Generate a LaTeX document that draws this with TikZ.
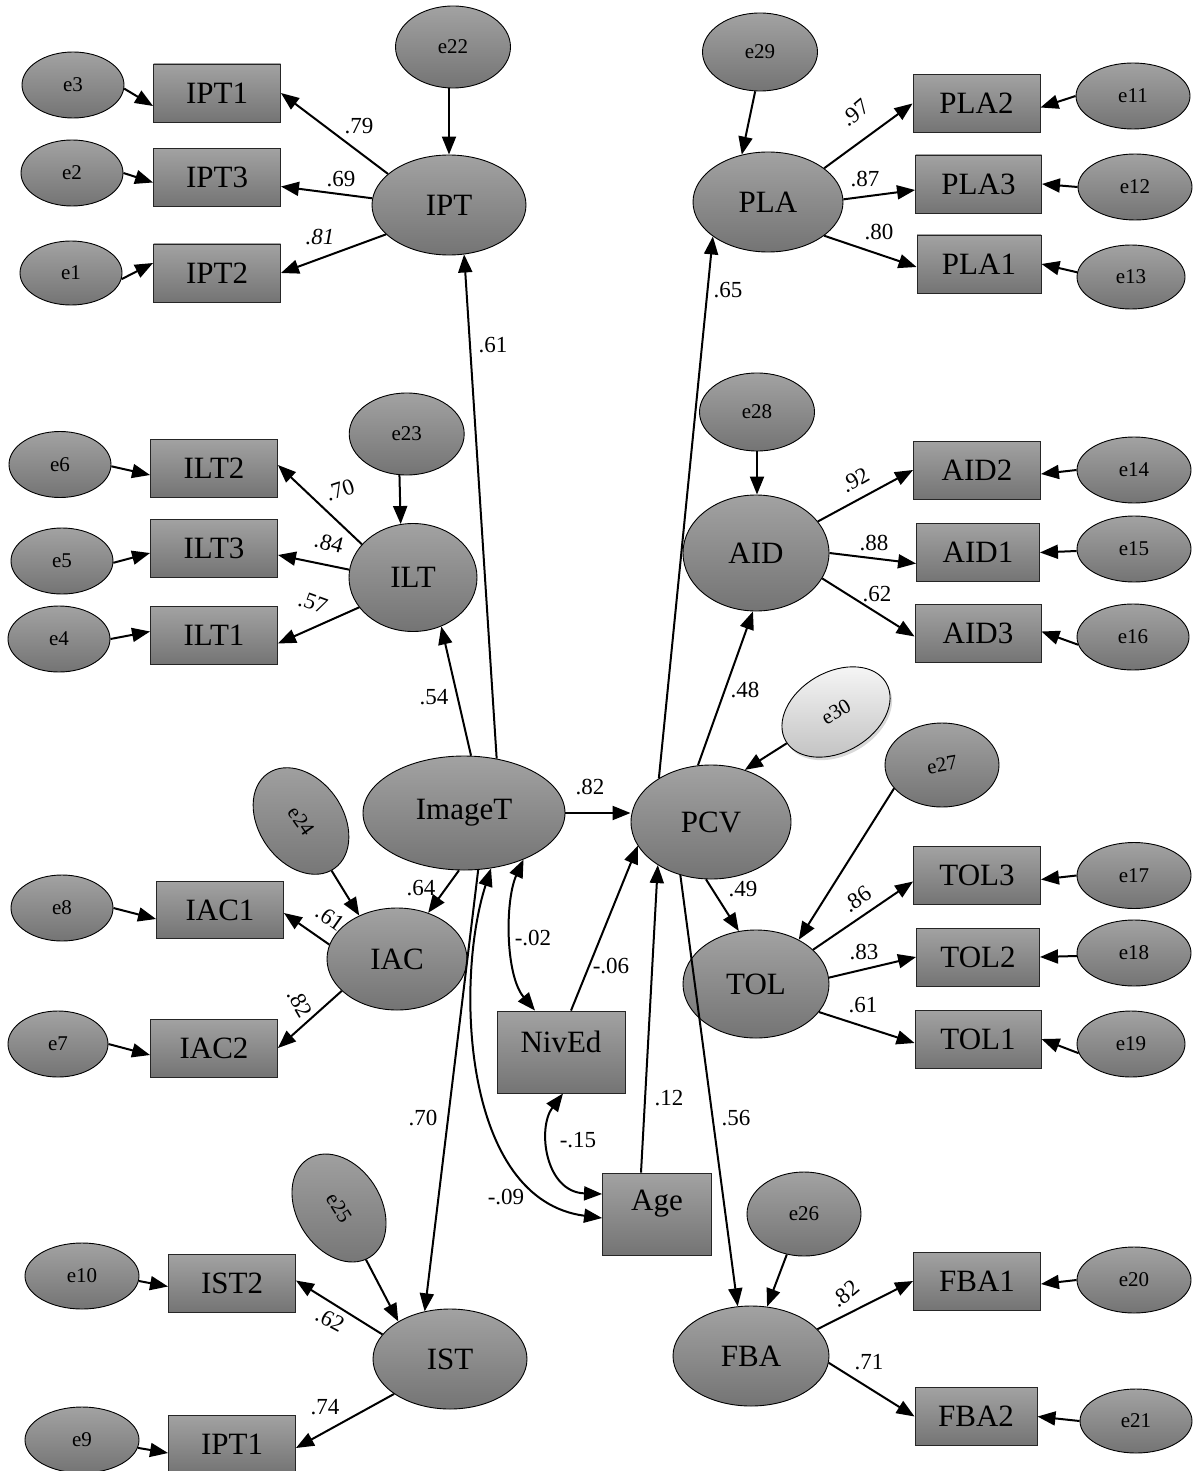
\documentclass[tikz,border=0pt]{standalone}
\usepackage{fontspec}
\usepackage{graphicx}
\setmainfont{Liberation Serif}
\usetikzlibrary{arrows.meta,shapes.geometric,shadows}
\definecolor{gtop}{RGB}{162,162,162}
\definecolor{gbot}{RGB}{116,116,116}
\definecolor{ltop}{RGB}{248,248,248}
\definecolor{lbot}{RGB}{192,192,192}
\begin{document}
\begin{tikzpicture}[x=1pt,y=-1pt,
  base/.style={draw=black,line width=0.9pt,top color=gtop,bottom color=gbot,inner sep=0pt},
  lat/.style={base,ellipse,font=\fontsize{31}{31}\selectfont},
  err/.style={base,ellipse,font=\fontsize{21}{21}\selectfont},
  eleft/.style={err,minimum width=102pt,minimum height=66pt},
  eright/.style={err,minimum width=114pt,minimum height=66pt},
  etop/.style={err,minimum width=115pt,minimum height=80pt},
  obs/.style={base,rectangle,draw=black!85,minimum width=127pt,minimum height=58pt,font=\fontsize{31}{31}\selectfont},
  coef/.style={font=\fontsize{23}{23}\selectfont,inner sep=0pt},
  arr/.style={line width=2pt,-{Triangle[length=18pt,width=14pt]}},
  dbl/.style={line width=2pt,{Triangle[length=18pt,width=14pt]}-{Triangle[length=18pt,width=14pt]}},
]
\useasboundingbox (0,0) rectangle (1193,1471);

% ---------- IPT group
\node[lat,minimum width=154pt,minimum height=100pt] (IPT) at (449,205) {IPT};
\node[etop,minimum height=82pt] (e22) at (453,47) {e22};
\node[obs] (IPT1) at (217,93) {IPT1};
\node[obs] (IPT3) at (217,177.5) {IPT3};
\node[obs] (IPT2) at (217,273) {IPT2};
\node[eleft] (e3) at (73,85) {e3};
\node[eleft] (e2) at (72,173) {e2};
\node[eleft,minimum height=64pt] (e1) at (71,273) {e1};

% ---------- PLA group
\node[lat,minimum width=150pt,minimum height=100pt] (PLA) at (768,202) {PLA};
\node[etop,minimum height=78pt] (e29) at (760,52) {e29};
\node[obs] (PLA2) at (976.5,103.5) {PLA2};
\node[obs,minimum width=126pt] (PLA3) at (978.5,184) {PLA3};
\node[obs,minimum width=124pt] (PLA1) at (979,264) {PLA1};
\node[eright] (e11) at (1133,96) {e11};
\node[eright] (e12) at (1135,187) {e12};
\node[eright,minimum width=108pt,minimum height=64pt] (e13) at (1131,277) {e13};

% ---------- ILT group
\node[lat,minimum width=128pt,minimum height=108pt] (ILT) at (413,577.5) {ILT};
\node[etop,minimum height=82pt] (e23) at (406.7,434) {e23};
\node[obs] (ILT2) at (214,468) {ILT2};
\node[obs] (ILT3) at (214,548) {ILT3};
\node[obs] (ILT1) at (214,635.5) {ILT1};
\node[eleft] (e6) at (60,464.5) {e6};
\node[eleft] (e5) at (62,561) {e5};
\node[eleft] (e4) at (59,639) {e4};

% ---------- AID group
\node[lat,minimum width=146pt,minimum height=116pt] (AID) at (756,553) {AID};
\node[etop,minimum height=78pt] (e28) at (757,412) {e28};
\node[obs] (AID2) at (977,470) {AID2};
\node[obs,minimum width=123pt] (AID1) at (978,552.5) {AID1};
\node[obs,minimum width=126pt] (AID3) at (978,633.5) {AID3};
\node[eright] (e14) at (1134,470) {e14};
\node[eright] (e15) at (1134,549) {e15};
\node[eright,minimum width=112pt] (e16) at (1133,637) {e16};

% ---------- centre
\node[lat,minimum width=202pt,minimum height=114pt] (ImageT) at (464,813) {ImageT};
\node[lat,minimum width=160pt,minimum height=114pt] (PCV) at (711,822) {PCV};
\node[err,top color=ltop,bottom color=lbot,rotate=30,minimum width=116pt,minimum height=80pt,
      drop shadow={shadow xshift=2pt,shadow yshift=-3pt,opacity=0.3}] (e30) at (836,712) {e30};
\node[etop,minimum width=114pt,minimum height=84pt] (e27) at (942,765) {\rotatebox{10}{e27}};

% ---------- IAC group
\node[lat,minimum width=140pt,minimum height=102pt] (IAC) at (397,959) {IAC};
\node[err,rotate=-55,minimum width=116pt,minimum height=84pt] (e24) at (301,821) {e24};
\node[obs,minimum height=57pt] (IAC1) at (220,910) {IAC1};
\node[obs] (IAC2) at (214,1048) {IAC2};
\node[eleft] (e8) at (62,908) {e8};
\node[eleft,minimum width=100pt] (e7) at (58,1044) {e7};

% ---------- TOL group
\node[lat,minimum width=146pt,minimum height=108pt] (TOL) at (756,984) {TOL};
\node[obs] (TOL3) at (977,875.5) {TOL3};
\node[obs,minimum width=123pt] (TOL2) at (978,957) {TOL2};
\node[obs,minimum width=126pt] (TOL1) at (978,1039) {TOL1};
\node[eright] (e17) at (1134,875.5) {e17};
\node[eright] (e18) at (1134,953) {e18};
\node[eright,minimum width=108pt] (e19) at (1131,1044) {e19};

% ---------- NivEd, Age
\node[obs,minimum width=128pt,minimum height=82pt,text depth=21pt] (NivEd) at (561,1052) {NivEd};
\node[obs,minimum width=109pt,minimum height=82pt,text depth=28pt] (Age) at (657,1214) {Age\hspace{14pt}};

% ---------- FBA group
\node[lat,minimum width=156pt,minimum height=100pt] (FBA) at (751,1356) {FBA};
\node[etop,minimum width=114pt,minimum height=84pt] (e26) at (804,1214) {e26};
\node[obs] (FBA1) at (977,1281) {FBA1};
\node[obs,minimum width=122pt] (FBA2) at (976,1416.5) {FBA2};
\node[eright] (e20) at (1134,1280) {e20};
\node[eright,minimum width=112pt,minimum height=64pt] (e21) at (1136,1421) {e21};

% ---------- IST group
\node[lat,minimum width=154pt,minimum height=100pt] (IST) at (450,1359) {IST};
\node[err,rotate=-58,minimum width=116pt,minimum height=84pt] (e25) at (339,1208) {e25};
\node[obs] (IST2) at (232,1283.5) {IST2};
\node[obs] (IPT1b) at (232,1444) {IPT1};
\node[eright] (e10) at (82,1276) {e10};
\node[eright] (e9) at (82,1440) {e9};

% ================= connectors
% IPT
\draw[arr] (IPT.north |- e22.south) -- (IPT.north);
\draw[arr] (IPT.153) -- (IPT1.east);
\draw[arr] (IPT.175) -- ([yshift=-9pt]IPT3.east);
\draw[arr] (IPT.-155) -- (IPT2.east);
\draw[arr] (e3.-4) -- ([yshift=-13pt]IPT1.west);
\draw[arr] (e2.0) -- ([yshift=-5pt]IPT3.west);
\draw[arr] (e1.-7) -- ([yshift=10pt]IPT2.west);
% PLA
\draw[arr] (e29.-97) -- (PLA.119);
\draw[arr] (PLA.31) -- (PLA2.west);
\draw[arr] (PLA.2) -- ([yshift=-6pt]PLA3.west);
\draw[arr] (PLA.-31) -- ([yshift=-3pt]PLA1.west);
\draw[arr] (e11.west) -- ([yshift=-4pt]PLA2.east);
\draw[arr] (e12.west) -- (PLA3.east);
\draw[arr] (e13.175) -- (PLA1.east);
% ILT
\draw[arr] (e23.-100) -- (ILT.103);
\draw[arr] (ILT.147) -- ([yshift=3pt]ILT2.east);
\draw[arr] (ILT.173) -- ([yshift=-7pt]ILT3.east);
\draw[arr] (ILT.-151) -- ([yshift=-8pt]ILT1.east);
\draw[arr] (e6.-2) -- ([yshift=-7pt]ILT2.west);
\draw[arr] (e5.-2) -- ([yshift=-5pt]ILT3.west);
\draw[arr] (e4.0) -- ([yshift=4pt]ILT1.west);
% AID
\draw[arr] (e28.south) -- (e28.south |- AID.north);
\draw[arr] (AID.27) -- (AID2.west);
\draw[arr] (AID.0) -- ([yshift=-11pt]AID1.west);
\draw[arr] (AID.-21) -- ([yshift=-3pt]AID3.west);
\draw[arr] (e14.west) -- ([yshift=-4pt]AID2.east);
\draw[arr] (e15.182) -- (AID1.east);
\draw[arr] (e16.-172) -- ([yshift=2pt]AID3.east);
% structural paths
\draw[arr] (ImageT.east) -- (PCV.west |- ImageT.east);
\draw[arr] (ImageT.59) -- (IPT.-73);
\draw[arr] (ImageT.83) -- (ILT.-60);
\draw[arr] (ImageT.-95) -- (IAC.56);
\draw[arr] (ImageT.-76) -- (IST.118);
\draw[arr] (PCV.140) -- (PLA.-148);
\draw[arr] (PCV.103) -- (AID.-93);
\draw[arr] (PCV.-95) -- (TOL.108);
\draw[arr] (PCV.-120) -- (FBA.105);
\draw[arr] (e30) -- (PCV.57);
\draw[arr] ([xshift=10pt]NivEd.north) -- (PCV.-162);
\draw[arr] ([xshift=-16pt]Age.north) -- (PCV.-141);
\draw[dbl] (ImageT.-64) .. controls (455,980) and (462,1200) .. ([yshift=-4pt]Age.west);
\draw[dbl] (ImageT.-38) .. controls (505,900) and (505,975) .. ([xshift=-26pt]NivEd.north);
\draw[dbl] ([xshift=2pt]NivEd.south) .. controls (537,1128) and (545,1192) .. ([yshift=20pt]Age.west);
% TOL
\draw[arr] (e27.-154) -- (TOL.46);
\draw[arr] (TOL.31) -- ([yshift=-6pt]TOL3.west);
\draw[arr] (TOL.5) -- (TOL2.west);
\draw[arr] (TOL.-24) -- ([yshift=-4pt]TOL1.west);
\draw[arr] (e17.west) -- ([yshift=-4pt]TOL3.east);
\draw[arr] (e18.183) -- (TOL2.east);
\draw[arr] (e19.-170) -- (TOL1.east);
% FBA
\draw[arr] (e26.-113) -- (FBA.72);
\draw[arr] (FBA.22) -- (FBA1.west);
\draw[arr] (FBA.-5) -- (FBA2.west);
\draw[arr] (e20.west) -- ([yshift=-3pt]FBA1.east);
\draw[arr] (e21.west) -- (FBA2.east);
% IAC
\draw[arr] (e24) -- (IAC.131);
\draw[arr] (IAC.168) -- ([yshift=-3pt]IAC1.east);
\draw[arr] (IAC.-150) -- (IAC2.east);
\draw[arr] (e8.0) -- ([yshift=-9pt]IAC1.west);
\draw[arr] (e7.0) -- ([yshift=-7pt]IAC2.west);
% IST
\draw[arr] (e25) -- (IST.144);
\draw[arr] (IST.160) -- ([yshift=3pt]IST2.east);
\draw[arr] (IST.-148) -- ([yshift=-4pt]IPT1b.east);
\draw[arr] (e10.-5) -- ([yshift=-3pt]IST2.west);
\draw[arr] (e9.-8) -- ([yshift=-9pt]IPT1b.west);

% ================= coefficients
\node[coef] (c1) at (359,126) {.79};
\node[coef] (c2) at (341,179) {.69};
\node[coef,font=\fontsize{23}{23}\selectfont\itshape] (c3) at (320,237) {.81};
\node[coef] (c4) at (493,345) {.61};
\node[coef,rotate=40] (c5) at (855,113) {.97};
\node[coef] (c6) at (865,179) {.87};
\node[coef] (c7) at (879,232) {.80};
\node[coef] (c8) at (728,290) {.65};
\node[coef,rotate=18] (c9) at (340,490) {.70};
\node[coef,rotate=-15] (c10) at (329,543) {.84};
\node[coef,rotate=-20] (c11) at (313,603) {.57};
\node[coef] (c12) at (434,697) {.54};
\node[coef,rotate=30] (c13) at (855,480) {.92};
\node[coef] (c14) at (874,543) {.88};
\node[coef] (c15) at (877,594) {.62};
\node[coef] (c16) at (745,690) {.48};
\node[coef] (c17) at (590,787) {.82};
\node[coef] (c18) at (421,888) {.64};
\node[coef,rotate=-35] (c19) at (330,918) {.61};
\node[coef,rotate=-60] (c20) at (300,1003) {.82};
\node[coef] (c21) at (743,889) {.49};
\node[coef,rotate=35] (c22) at (857,899) {.86};
\node[coef] (c23) at (864,952) {.83};
\node[coef] (c24) at (863,1005) {.61};
\node[coef] (c25) at (533,938) {-.02};
\node[coef] (c26) at (611,966) {-.06};
\node[coef] (c27) at (669,1098) {.12};
\node[coef] (c28) at (578,1140) {-.15};
\node[coef] (c29) at (736,1118) {.56};
\node[coef] (c30) at (423,1118) {.70};
\node[coef] (c31) at (506,1197) {-.09};
\node[coef,rotate=40] (c32) at (845,1294) {.82};
\node[coef] (c33) at (869,1362) {.71};
\node[coef,rotate=-28] (c34) at (330,1320) {.62};
\node[coef] (c35) at (325,1407) {.74};
\end{tikzpicture}
\end{document}
